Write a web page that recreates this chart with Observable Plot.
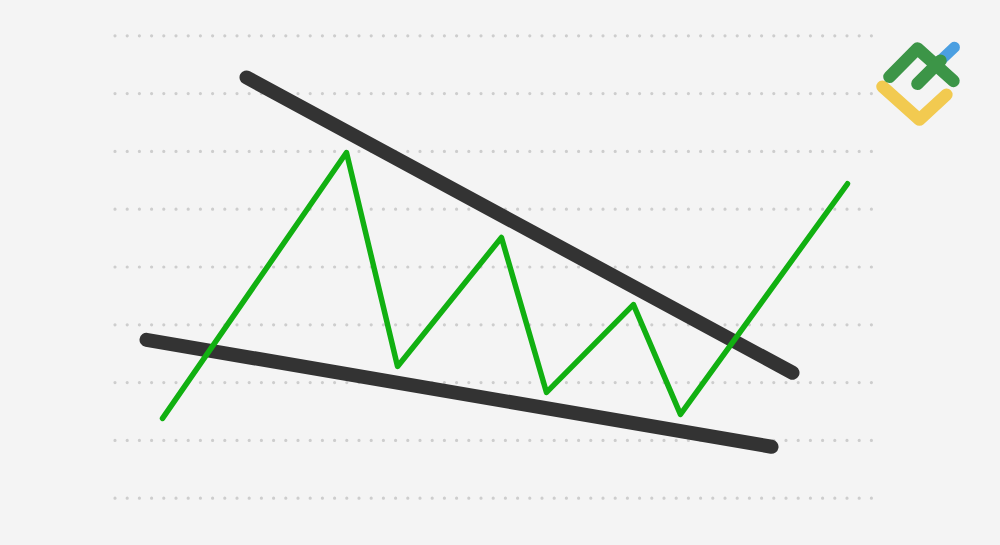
<!DOCTYPE html>
<html>
<head>
<meta charset="utf-8">
<script src="https://cdn.jsdelivr.net/npm/d3@7"></script>
<script src="https://cdn.jsdelivr.net/npm/@observablehq/plot@0.6"></script>
<style>
  html, body { margin: 0; padding: 0; background: #f4f4f4; }
  #chart svg { display: block; }
</style>
</head>
<body>
<div id="chart"></div>
<script>
// Grid levels (dotted horizontal lines)
const gridLevels = [0, 1, 2, 3, 4, 5, 6, 7, 8];

// Price path (zig-zag breaking out of a falling wedge)
const priceX = [3.85, 18.92, 23.10, 31.61, 35.30, 42.42, 46.27, 59.95];
const priceY = [1.38, 5.98, 2.28, 4.51, 1.83, 3.35, 1.45, 5.44];

// Upper (resistance) trendline
const upperX = [10.73, 55.45];
const upperY = [7.28, 2.17];

// Lower (support) trendline
const lowerX = [2.54, 53.73];
const lowerY = [2.74, 0.89];

// Logo strokes
const logoYellowX = [62.82, 65.84, 68.05];
const logoYellowY = [7.12, 6.55, 6.98];
const logoGreenX = [63.39, 65.68, 68.63];
const logoGreenY = [7.29, 7.78, 7.22];
const logoGreenInnerX = [65.68, 67.57];
const logoGreenInnerY = [7.17, 7.57];
const logoBlueX = [67.20, 68.71];
const logoBlueY = [7.50, 7.80];

const zip = (xs, ys) => xs.map((x, i) => ({x, y: ys[i]}));

const chart = Plot.plot({
  width: 1000,
  height: 545,
  marginLeft: 115,
  marginRight: 128,
  marginTop: 35.3,
  marginBottom: 47.3,
  x: {domain: [0, 62], axis: null},
  y: {domain: [0, 8], axis: null},
  style: {background: "#f4f4f4"},
  marks: [
    Plot.gridY(gridLevels, {stroke: "#cdcdcd", strokeOpacity: 1, strokeWidth: 3.2, strokeDasharray: "0,12.2", strokeLinecap: "round"}),
    Plot.line(zip(upperX, upperY), {x: "x", y: "y", stroke: "#333333", strokeWidth: 14, strokeLinecap: "round"}),
    Plot.line(zip(lowerX, lowerY), {x: "x", y: "y", stroke: "#333333", strokeWidth: 14, strokeLinecap: "round"}),
    Plot.line(zip(priceX, priceY), {x: "x", y: "y", stroke: "#11b011", strokeWidth: 5.5, strokeLinecap: "round", strokeLinejoin: "round"}),
    Plot.line(zip(logoYellowX, logoYellowY), {x: "x", y: "y", stroke: "#f2ca50", strokeWidth: 12.5, strokeLinecap: "round", strokeLinejoin: "round"}),
    Plot.line(zip(logoBlueX, logoBlueY), {x: "x", y: "y", stroke: "#4b9fe1", strokeWidth: 11, strokeLinecap: "round"}),
    Plot.line(zip(logoGreenX, logoGreenY), {x: "x", y: "y", stroke: "#3c9547", strokeWidth: 12.5, strokeLinecap: "round", strokeLinejoin: "round"}),
    Plot.line(zip(logoGreenInnerX, logoGreenInnerY), {x: "x", y: "y", stroke: "#3c9547", strokeWidth: 12.5, strokeLinecap: "round"})
  ]
});
document.getElementById("chart").append(chart);
</script>
</body>
</html>
